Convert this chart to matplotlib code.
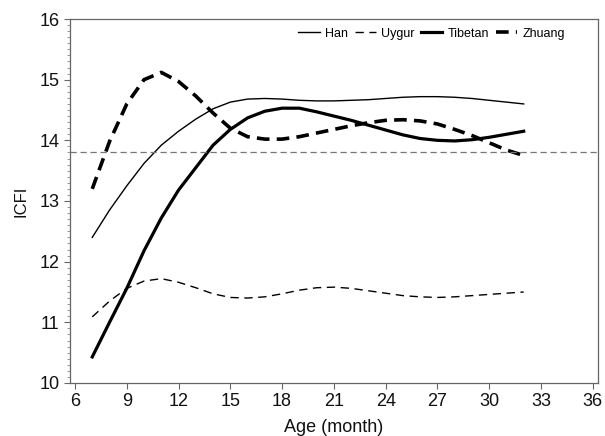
import matplotlib
matplotlib.use("Agg")
import matplotlib.pyplot as plt
from matplotlib.ticker import MultipleLocator

plt.rcParams['font.family'] = ['Liberation Sans', 'DejaVu Sans']

months = list(range(7, 33))
han = [12.40, 12.85, 13.25, 13.62, 13.92, 14.15, 14.35, 14.52, 14.63, 14.68, 14.69, 14.68,
       14.66, 14.65, 14.65, 14.66, 14.67, 14.69, 14.71, 14.72, 14.72, 14.71, 14.69, 14.66,
       14.63, 14.60]
uygur = [11.09, 11.35, 11.56, 11.68, 11.72, 11.66, 11.57, 11.47, 11.41, 11.40, 11.42, 11.47,
         11.53, 11.57, 11.58, 11.56, 11.52, 11.48, 11.44, 11.42, 11.41, 11.42, 11.44, 11.46,
         11.48, 11.50]
tibetan = [10.43, 11.00, 11.56, 12.18, 12.72, 13.18, 13.55, 13.92, 14.18, 14.37, 14.48, 14.53,
           14.53, 14.47, 14.40, 14.33, 14.25, 14.17, 14.09, 14.03, 14.00, 13.99, 14.01, 14.05,
           14.10, 14.15]
zhuang = [13.20, 13.98, 14.60, 15.00, 15.12, 14.97, 14.73, 14.45, 14.20, 14.06, 14.02, 14.02,
          14.06, 14.12, 14.18, 14.24, 14.29, 14.33, 14.34, 14.32, 14.27, 14.18, 14.08, 13.96,
          13.84, 13.75]
ref_value = 13.8
xticks = [6, 9, 12, 15, 18, 21, 24, 27, 30, 33, 36]
yticks = [10, 11, 12, 13, 14, 15, 16]

fig = plt.figure(figsize=(6.05, 4.36), dpi=100)
ax = fig.add_axes([0.1157, 0.1216, 0.8723, 0.8348])

ax.plot(months, han, color='black', lw=1.0, ls='-', label='Han')
ax.plot(months, uygur, color='black', lw=1.0, ls=(0, (6, 4)), label='Uygur')
ax.plot(months, tibetan, color='black', lw=2.3, ls='-', label='Tibetan')
ax.plot(months, zhuang, color='black', lw=2.6, ls=(0, (3.5, 2)), label='Zhuang')
ax.axhline(ref_value, color='#777777', lw=0.9, ls=(0, (5, 3)))

ax.set_xlim(5.71, 36.29)
ax.set_ylim(10, 16)
ax.set_xticks(xticks)
ax.set_yticks(yticks)
ax.yaxis.set_minor_locator(MultipleLocator(0.1))
ax.tick_params(axis='both', which='major', direction='out', length=4, width=0.8,
               colors='#666666', labelcolor='#111111', labelsize=13)
ax.tick_params(axis='y', which='minor', direction='out', length=2, width=0.6, colors='#888888')
for s in ax.spines.values():
    s.set_color('#666666')
    s.set_linewidth(0.9)

ax.set_xlabel('Age (month)', fontsize=13, labelpad=6, color='#111111')
ax.set_ylabel('ICFI', fontsize=12, labelpad=8, color='#111111')

leg = ax.legend(loc='upper right', ncol=4, frameon=False, fontsize=9,
                handlelength=1.7, columnspacing=0.5, handletextpad=0.45,
                borderpad=0.2, bbox_to_anchor=(0.955, 1.0))

fig.savefig('out.png', dpi=100)
